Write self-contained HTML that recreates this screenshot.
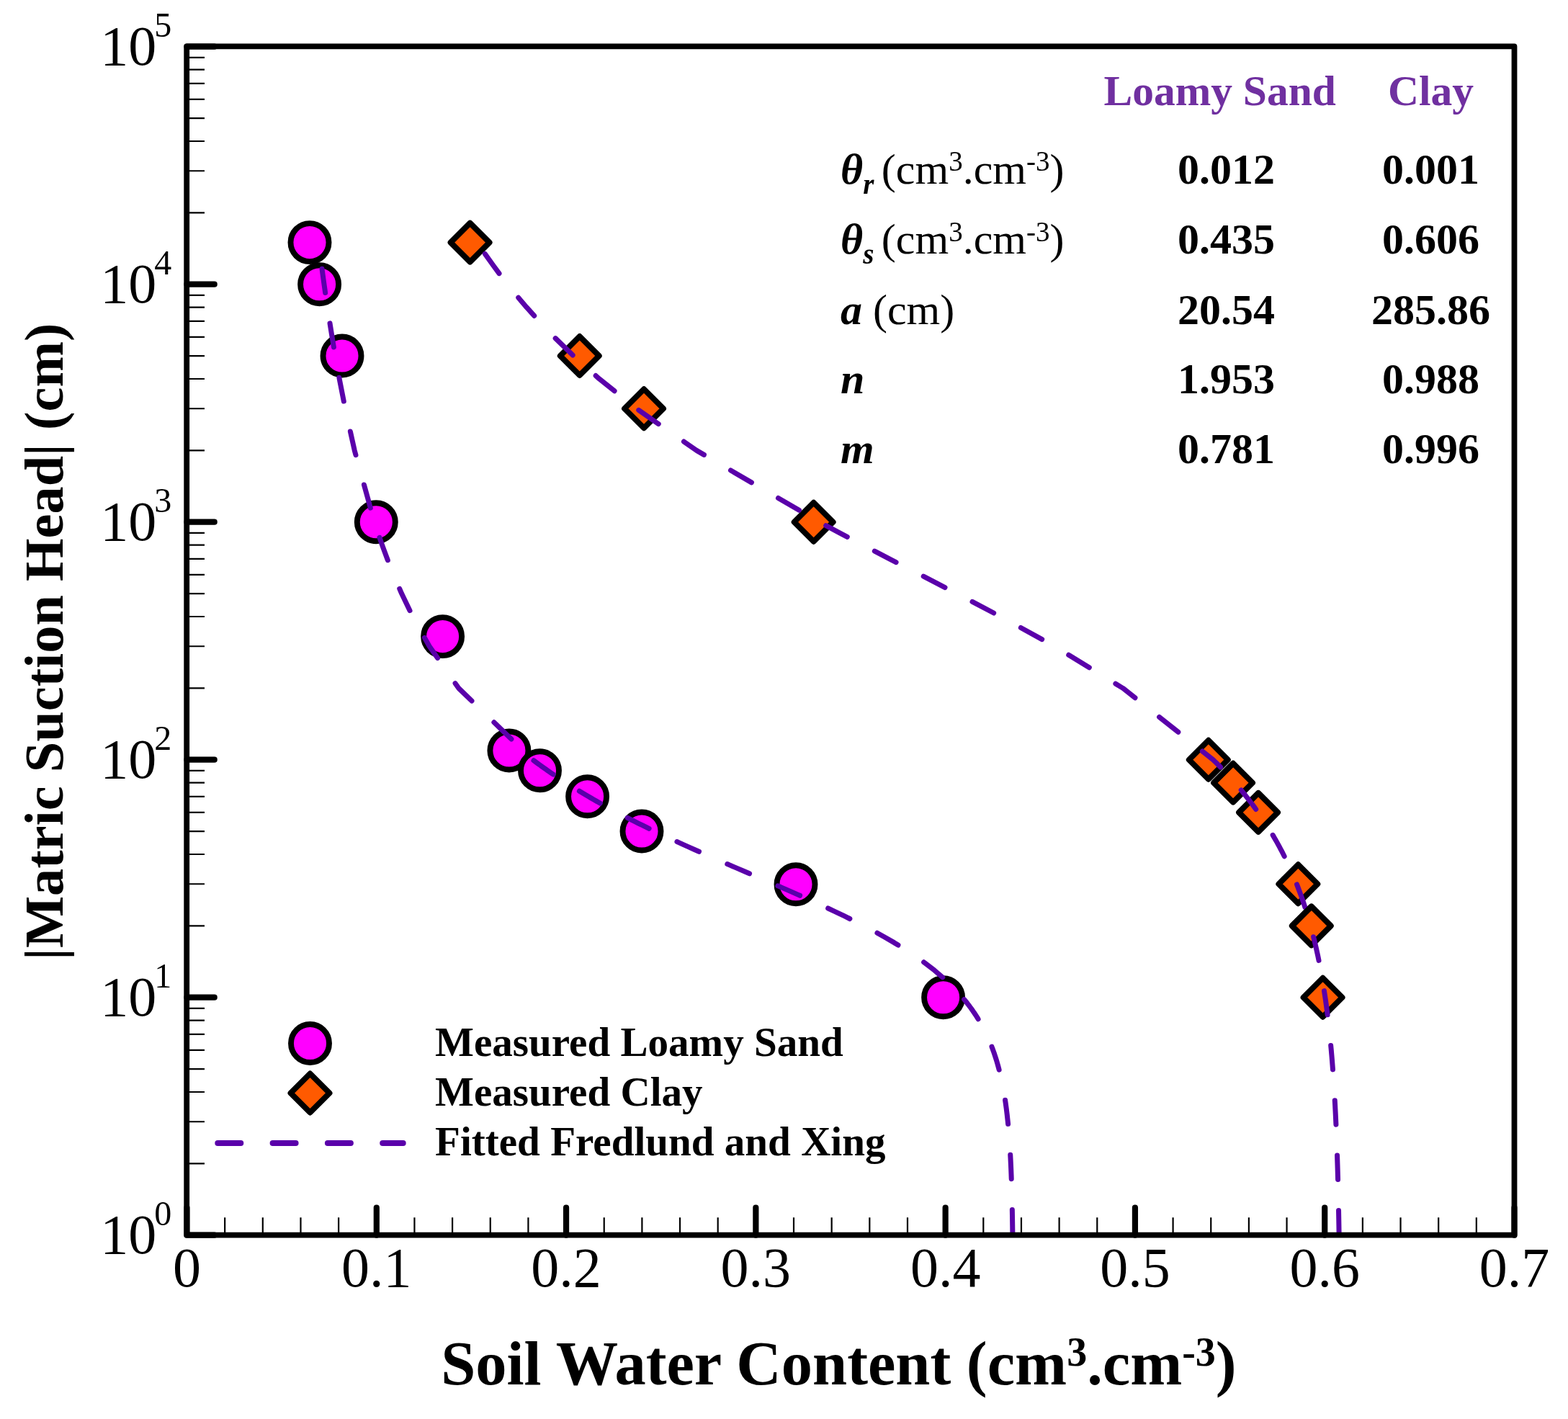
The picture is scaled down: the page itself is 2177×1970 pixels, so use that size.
<!DOCTYPE html>
<html lang="en"><head><meta charset="utf-8"><title>Soil water retention curves</title>
<style>html,body{margin:0;padding:0;background:#fff}svg{display:block}text{font-family:"Liberation Serif",serif;fill:#000}.b{font-weight:bold}.bi{font-weight:bold;font-style:italic}</style></head><body>
<svg width="2177" height="1970" viewBox="0 0 2177 1970" role="img" aria-label="Soil water retention curves: measured and fitted Fredlund and Xing">
<rect x="0" y="0" width="2177" height="1970" fill="#fff"/>
<g fill="#FF00FF" stroke="#000" stroke-width="7.9">
<circle cx="430" cy="336.6" r="26.5"/>
<circle cx="443.6" cy="394.7" r="26.5"/>
<circle cx="475" cy="494" r="26.5"/>
<circle cx="522.3" cy="724.7" r="26.5"/>
<circle cx="614.6" cy="883.6" r="26.5"/>
<circle cx="706.9" cy="1042" r="26.5"/>
<circle cx="749.5" cy="1069.8" r="26.5"/>
<circle cx="815.6" cy="1105.8" r="26.5"/>
<circle cx="891" cy="1154" r="26.5"/>
<circle cx="1105" cy="1227.7" r="26.5"/>
<circle cx="1309.6" cy="1384.7" r="26.5"/>
</g>
<g fill="#FF5A00" stroke="#000" stroke-width="7.9" stroke-linejoin="round">
<path d="M625.59 336.59L652.59 309.59L679.59 336.59L652.59 363.59Z"/>
<path d="M777.76 494.04L804.76 467.04L831.76 494.04L804.76 521.04Z"/>
<path d="M867.02 567.25L894.02 540.25L921.02 567.25L894.02 594.25Z"/>
<path d="M1102.66 724.7L1129.66 697.7L1156.66 724.7L1129.66 751.7Z"/>
<path d="M1650.82 1054.7L1677.82 1027.7L1704.82 1054.7L1677.82 1081.7Z"/>
<path d="M1685.05 1086.68L1712.05 1059.68L1739.05 1086.68L1712.05 1113.68Z"/>
<path d="M1720.06 1127.91L1747.06 1100.91L1774.06 1127.91L1747.06 1154.91Z"/>
<path d="M1775.35 1227.25L1802.35 1200.25L1829.35 1227.25L1802.35 1254.25Z"/>
<path d="M1793.78 1285.36L1820.78 1258.36L1847.78 1285.36L1820.78 1312.36Z"/>
<path d="M1809.58 1384.7L1836.58 1357.7L1863.58 1384.7L1836.58 1411.7Z"/>
</g>
<g fill="none" stroke="#5A00AA" stroke-width="7.0" stroke-linecap="round" stroke-linejoin="round">
<path d="M447.05 373.28L448.1 381.04L449.99 394.7L451.66 406.46"/>
<path d="M458.03 448.89L461.07 467.91L463.43 481.95"/>
<path d="M470.89 524.19L471.22 526.02L477.31 557.07"/>
<path d="M486.37 599L492.23 625.36L493.96 631.62"/>
<path d="M505.43 672.96L514.38 705.25"/>
<path d="M526.97 746.24L530.58 756.68L537.63 775.82L538.38 777.73"/>
<path d="M554.76 817.38L557.64 824.04L569.04 847.68"/>
<path d="M589.5 885.37L596.15 897.25L607.53 913.55"/>
<path d="M632.09 948.73L636.72 955.36L655 973.01"/>
<path d="M685.86 1002.82L709.96 1026.09"/>
<path d="M740.95 1055.73L741.5 1056.14L743.45 1057.6L745.43 1059.07L747.46 1060.55L749.51 1062.05L751.61 1063.57L753.75 1065.1L755.92 1066.65L758.14 1068.22L760.4 1069.8L762.71 1071.4L765.06 1073.02L767.45 1074.66L768.22 1075.18"/>
<path d="M804.36 1098.3L806.85 1099.8L810.16 1101.78L813.55 1103.78L817.01 1105.82L820.57 1107.88L824.21 1109.97L827.94 1112.1L831.76 1114.25L833.32 1115.12"/>
<path d="M871.16 1135.34L875.97 1137.8L881.08 1140.38L886.34 1143.01L891.75 1145.69L897.32 1148.42L901.14 1150.28"/>
<path d="M939.96 1168.55L941.24 1169.14L948.31 1172.36L955.59 1175.66L963.11 1179.03L970.5 1182.32"/>
<path d="M1009.79 1199.53L1013.47 1201.12L1022.81 1205.16L1032.45 1209.31L1040.55 1212.8"/>
<path d="M1079.94 1229.8L1085.24 1232.11L1096.75 1237.14L1108.57 1242.35L1110.61 1243.26"/>
<path d="M1149.67 1261.01L1158.89 1265.33L1172.16 1271.7L1179.87 1275.5"/>
<path d="M1217.94 1295.27L1227.33 1300.46L1241.44 1308.65L1246.94 1312.04"/>
<path d="M1282.64 1335.8L1283.59 1336.48L1297.33 1347.1L1308.71 1356.82"/>
<path d="M1338.64 1387.5L1338.72 1387.6L1339.93 1389.07L1341.13 1390.55L1342.32 1392.05L1343.5 1393.57L1344.68 1395.1L1345.85 1396.65L1347.01 1398.22L1348.17 1399.8L1349.31 1401.4L1350.45 1403.02L1351.59 1404.66L1352.71 1406.32L1353.83 1407.99L1354.94 1409.69L1356.04 1411.4L1357.13 1413.14L1358.1 1414.73"/>
<path d="M1376.99 1453.18L1377 1453.21L1377.88 1455.54L1378.76 1457.91L1379.62 1460.32L1380.48 1462.77L1381.32 1465.26L1382.15 1467.8L1382.96 1470.38L1383.77 1473.01L1384.57 1475.69L1385.35 1478.42L1386.12 1481.2L1386.87 1484.04L1387.14 1485.09"/>
<path d="M1395.55 1527.14L1395.55 1527.19L1396.13 1531.12L1396.69 1535.16L1397.24 1539.31L1397.77 1543.59L1398.29 1548L1398.79 1552.55L1399.28 1557.25L1399.59 1560.39"/>
<path d="M1402.74 1603.17L1403.02 1608.37L1403.36 1615.36L1403.68 1622.71L1403.99 1630.46L1404.22 1636.64"/>
<path d="M1405.35 1679.52L1405.52 1688.57L1405.72 1701.04L1405.88 1713.02"/>
<path d="M673.4 352.46L676.61 357.1L684.84 368.57L693.03 379.6"/>
<path d="M719.72 413.18L731.17 426.68L741.71 438.45"/>
<path d="M771.17 469.63L795.18 492.99"/>
<path d="M827.16 521.58L832.15 526.02L853.1 542.77"/>
<path d="M886.75 569.36L914.24 588.51"/>
<path d="M949.44 613.04L967.13 625.36L977.45 631.37"/>
<path d="M1014.5 652.99L1043.44 669.86"/>
<path d="M1080.5 691.47L1109.44 708.35"/>
<path d="M1146.69 729.61L1165.81 739.8L1176.29 745.3"/>
<path d="M1214.32 765.16L1234.88 775.82L1244.07 780.55"/>
<path d="M1282.21 800.2L1311.98 815.57"/>
<path d="M1350.01 835.41L1379.67 851"/>
<path d="M1417.34 871.51L1446.69 887.67"/>
<path d="M1483.73 909.29L1512.3 926.78"/>
<path d="M1548.88 949.19L1558.95 955.36L1575.95 968.83"/>
<path d="M1609.56 995.49L1635.81 1016.3"/>
<path d="M1669.43 1042.95L1684.25 1054.7L1685.71 1056.14L1687.17 1057.6L1688.64 1059.07L1690.12 1060.55L1691.6 1062.05L1693.09 1063.57L1694.53 1065.05"/>
<path d="M1723.18 1096.96L1723.92 1097.85L1725.52 1099.8L1727.12 1101.78L1728.74 1103.78L1730.35 1105.82L1731.97 1107.88L1733.6 1109.97L1735.24 1112.1L1736.88 1114.25L1738.52 1116.44L1740.18 1118.66L1741.83 1120.92L1743.5 1123.21L1743.68 1123.46"/>
<path d="M1767.15 1159.35L1767.47 1159.89L1769.23 1162.91L1771 1165.99L1772.78 1169.14L1774.56 1172.36L1776.35 1175.66L1778.15 1179.03L1779.95 1182.48L1781.76 1186.02L1783.14 1188.78"/>
<path d="M1800.57 1227.96L1802.18 1232.11L1804.09 1237.14L1806 1242.35L1807.92 1247.76L1809.85 1253.38L1811.78 1259.23L1811.87 1259.49"/>
<path d="M1823.66 1300.73L1825.59 1308.65L1827.6 1317.34L1829.62 1326.59L1831.02 1333.41"/>
<path d="M1838.5 1375.65L1839.87 1384.7L1840.08 1386.14L1840.29 1387.6L1840.5 1389.07L1840.7 1390.55L1840.91 1392.05L1841.12 1393.57L1841.33 1395.1L1841.54 1396.65L1841.75 1398.22L1841.95 1399.8L1842.16 1401.4L1842.37 1403.02L1842.58 1404.66L1842.79 1406.32L1843 1407.99L1843.1 1408.83"/>
<path d="M1847.69 1451.48L1847.85 1453.21L1848.07 1455.54L1848.28 1457.91L1848.49 1460.32L1848.7 1462.77L1848.92 1465.26L1849.13 1467.8L1849.34 1470.38L1849.56 1473.01L1849.77 1475.69L1849.99 1478.42L1850.2 1481.2L1850.41 1484.04L1850.47 1484.87"/>
<path d="M1853.24 1527.68L1853.43 1531.12L1853.65 1535.16L1853.86 1539.31L1854.08 1543.59L1854.3 1548L1854.51 1552.55L1854.73 1557.25L1854.91 1561.13"/>
<path d="M1856.56 1604L1856.7 1608.37L1856.92 1615.36L1857.14 1622.71L1857.36 1630.46L1857.55 1637.49"/>
<path d="M1858.53 1680.38L1858.69 1688.57L1858.91 1701.04L1859.12 1713.87"/>
</g>
<path d="M1685.05 1086.68L1712.05 1059.68M1793.78 1285.36L1820.78 1258.36" fill="none" stroke="#000" stroke-width="7.9" stroke-linecap="butt"/>
<g stroke="#000" fill="none">
<path d="M259.5 1615.36H284M259.5 1557.25H284M259.5 1516.02H284M259.5 1484.04H284M259.5 1457.91H284M259.5 1435.82H284M259.5 1416.68H284M259.5 1399.8H284M259.5 1285.36H284M259.5 1227.25H284M259.5 1186.02H284M259.5 1154.04H284M259.5 1127.91H284M259.5 1105.82H284M259.5 1086.68H284M259.5 1069.8H284M259.5 955.36H284M259.5 897.25H284M259.5 856.02H284M259.5 824.04H284M259.5 797.91H284M259.5 775.82H284M259.5 756.68H284M259.5 739.8H284M259.5 625.36H284M259.5 567.25H284M259.5 526.02H284M259.5 494.04H284M259.5 467.91H284M259.5 445.82H284M259.5 426.68H284M259.5 409.8H284M259.5 295.36H284M259.5 237.25H284M259.5 196.02H284M259.5 164.04H284M259.5 137.91H284M259.5 115.82H284M259.5 96.68H284M259.5 79.8H284M312.16 1714.7V1690.2M364.81 1714.7V1690.2M417.47 1714.7V1690.2M470.13 1714.7V1690.2M575.44 1714.7V1690.2M628.1 1714.7V1690.2M680.76 1714.7V1690.2M733.41 1714.7V1690.2M838.73 1714.7V1690.2M891.39 1714.7V1690.2M944.04 1714.7V1690.2M996.7 1714.7V1690.2M1102.01 1714.7V1690.2M1154.67 1714.7V1690.2M1207.33 1714.7V1690.2M1259.99 1714.7V1690.2M1365.3 1714.7V1690.2M1417.96 1714.7V1690.2M1470.61 1714.7V1690.2M1523.27 1714.7V1690.2M1628.59 1714.7V1690.2M1681.24 1714.7V1690.2M1733.9 1714.7V1690.2M1786.56 1714.7V1690.2M1891.87 1714.7V1690.2M1944.53 1714.7V1690.2M1997.19 1714.7V1690.2M2049.84 1714.7V1690.2" stroke-width="2.2" stroke-linecap="butt"/>
<path d="M259.5 1714.7H297.7M259.5 1384.7H297.7M259.5 1054.7H297.7M259.5 724.7H297.7M259.5 394.7H297.7M259.5 64.7H297.7M259.5 1714.7V1676.5M522.79 1714.7V1676.5M786.07 1714.7V1676.5M1049.36 1714.7V1676.5M1312.64 1714.7V1676.5M1575.93 1714.7V1676.5M1839.21 1714.7V1676.5M2102.5 1714.7V1676.5" stroke-width="8.2" stroke-linecap="round"/>
<rect x="259.2" y="64.45" width="1843.3" height="1650.2" stroke-width="7.8" stroke-linejoin="round"/>
</g>
<g font-size="78">
<text x="139.2" y="1740.3">10<tspan font-size="48" dx="-3" dy="-39.2">0</tspan></text>
<text x="139.2" y="1410.3">10<tspan font-size="48" dx="-3" dy="-39.2">1</tspan></text>
<text x="139.2" y="1080.3">10<tspan font-size="48" dx="-3" dy="-39.2">2</tspan></text>
<text x="139.2" y="750.3">10<tspan font-size="48" dx="-3" dy="-39.2">3</tspan></text>
<text x="139.2" y="420.3">10<tspan font-size="48" dx="-3" dy="-39.2">4</tspan></text>
<text x="139.2" y="90.3">10<tspan font-size="48" dx="-3" dy="-39.2">5</tspan></text>
<text x="259.5" y="1786.2" text-anchor="middle">0</text>
<text x="522.79" y="1786.2" text-anchor="middle">0.1</text>
<text x="786.07" y="1786.2" text-anchor="middle">0.2</text>
<text x="1049.36" y="1786.2" text-anchor="middle">0.3</text>
<text x="1312.64" y="1786.2" text-anchor="middle">0.4</text>
<text x="1575.93" y="1786.2" text-anchor="middle">0.5</text>
<text x="1839.21" y="1786.2" text-anchor="middle">0.6</text>
<text x="2102.5" y="1786.2" text-anchor="middle">0.7</text>
</g>
<text class="b" font-size="86.5" x="612.2" y="1922.3">Soil Water Content (cm<tspan font-size="56" dy="-26">3</tspan><tspan dy="26">.cm</tspan><tspan font-size="56" dy="-26">-3</tspan><tspan dy="26">)</tspan></text>
<text class="b" font-size="76.4" transform="translate(86.6 1332.9) rotate(-90)">|Matric Suction Head| (cm)</text>
<circle cx="430.5" cy="1448.5" r="26.5" fill="#FF00FF" stroke="#000" stroke-width="7.9"/>
<path d="M403.5 1517.5L430.5 1490.5L457.5 1517.5L430.5 1544.5Z" fill="#FF5A00" stroke="#000" stroke-width="7.9" stroke-linejoin="round"/>
<path d="M302.3 1587.0H334.3M378.6 1587.0H410.6M454.9 1587.0H486.9M531.2 1587.0H559.7" fill="none" stroke="#5A00AA" stroke-width="8" stroke-linecap="round"/>
<g class="b" font-size="57.1">
<text x="604" y="1466.3">Measured Loamy Sand</text>
<text x="604" y="1534.8">Measured Clay</text>
<text x="604" y="1603.8">Fitted Fredlund and Xing</text>
</g>
<g class="b" font-size="59.5" fill="#7030A0">
<text x="1693.7" y="145.5" text-anchor="middle" style="fill:#7030A0">Loamy Sand</text>
<text x="1986.6" y="145.5" text-anchor="middle" style="fill:#7030A0">Clay</text>
</g>
<g font-size="60">
<text x="1167" y="255.2"><tspan class="bi">θ</tspan><tspan class="bi" font-size="39" dy="13.9">r</tspan><tspan dy="-13.9" dx="-4.5"> (cm</tspan><tspan font-size="39" dy="-17.9">3</tspan><tspan dy="17.9">.cm</tspan><tspan font-size="39" dy="-17.9">-3</tspan><tspan dy="17.9">)</tspan></text>
<text x="1167" y="352.4"><tspan class="bi">θ</tspan><tspan class="bi" font-size="39" dy="13.9">s</tspan><tspan dy="-13.9" dx="-4.5"> (cm</tspan><tspan font-size="39" dy="-17.9">3</tspan><tspan dy="17.9">.cm</tspan><tspan font-size="39" dy="-17.9">-3</tspan><tspan dy="17.9">)</tspan></text>
<text x="1167" y="449.5"><tspan class="bi">a</tspan> (cm)</text>
<text x="1167" y="546.3" class="bi">n</text>
<text x="1167" y="643.3" class="bi">m</text>
</g>
<g class="b" font-size="60" text-anchor="middle">
<text x="1702.5" y="255.2">0.012</text><text x="1986.5" y="255.2">0.001</text>
<text x="1702.5" y="352.4">0.435</text><text x="1986.5" y="352.4">0.606</text>
<text x="1702.5" y="449.5">20.54</text><text x="1986.5" y="449.5">285.86</text>
<text x="1702.5" y="546.3">1.953</text><text x="1986.5" y="546.3">0.988</text>
<text x="1702.5" y="643.3">0.781</text><text x="1986.5" y="643.3">0.996</text>
</g>

</svg></body></html>
